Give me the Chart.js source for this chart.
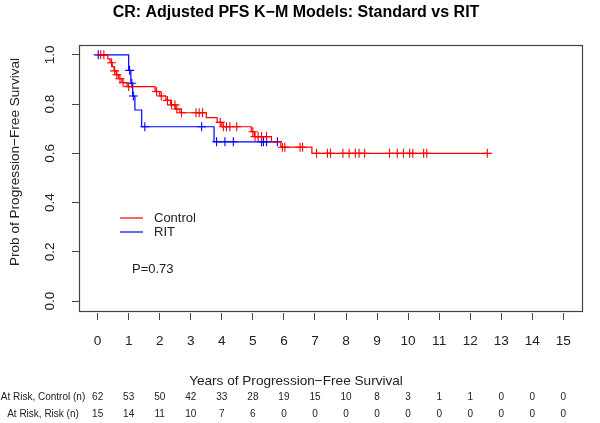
<!DOCTYPE html>
<html>
<head>
<meta charset="utf-8">
<script src="https://cdn.jsdelivr.net/npm/chart.js"></script>
<style>
  html, body { margin: 0; padding: 0; background: #fff; }
</style>
</head>
<body>
<canvas id="km" width="600" height="423"></canvas>
<script>
// tick values
const xTicks = [0, 1, 2, 3, 4, 5, 6, 7, 8, 9, 10, 11, 12, 13, 14, 15];
const yTicks = [0, 0.2, 0.4, 0.6, 0.8, 1.0];

// Control arm: event times (years) and survival after each step
const controlTimes = [0, 0.33, 0.40, 0.47, 0.53, 0.60, 0.68, 0.78, 0.95, 1.85, 2.0, 2.2, 2.35, 2.5, 2.65, 3.5, 3.85, 4.0, 4.95, 5.05, 5.6, 5.9, 6.9];
const controlSurv  = [1.0, 0.984, 0.968, 0.952, 0.935, 0.919, 0.903, 0.887, 0.871, 0.851, 0.833, 0.815, 0.797, 0.78, 0.765, 0.745, 0.726, 0.708, 0.688, 0.668, 0.647, 0.625, 0.600];
const controlEnd = 12.55;
const controlCensor = [0.1, 0.2, 0.45, 0.55, 0.62, 0.72, 0.82, 1.0, 1.9, 2.05, 2.25, 2.38, 2.49, 2.55, 2.7, 3.17, 3.27, 3.38, 3.95, 4.05, 4.15, 4.26, 4.48, 5.0, 5.07, 5.17, 5.28, 5.44, 5.95, 6.03, 6.52, 6.6, 7.05, 7.4, 7.5, 7.9, 8.1, 8.3, 8.42, 8.6, 9.4, 9.65, 9.85, 10.05, 10.15, 10.5, 10.6, 12.55];

// RIT arm
const ritTimes = [0, 1.0, 1.07, 1.13, 1.2, 1.42, 3.75];
const ritSurv  = [1.0, 0.937, 0.885, 0.833, 0.776, 0.708, 0.647];
const ritEnd = 5.85;
const ritCensor = [0.02, 1.03, 1.1, 1.15, 1.52, 3.35, 3.83, 4.1, 4.37, 5.28, 5.34, 5.44, 5.79];

// numbers at risk
const atRiskControl = [62, 53, 50, 42, 33, 28, 19, 15, 10, 8, 3, 1, 1, 0, 0, 0];
const atRiskRit     = [15, 14, 11, 10, 7, 6, 0, 0, 0, 0, 0, 0, 0, 0, 0, 0];

const FONT = '"Liberation Sans", Arial, Helvetica, sans-serif';
const RED = '#ff0000';
const BLUE = '#0000ff';

function stepPoints(times, surv, end) {
    const pts = times.map((t, i) => ({ x: t, y: surv[i] }));
    pts.push({ x: end, y: surv[surv.length - 1] });
    return pts;
}

function survAt(times, surv, t) {
    let s = surv[0];
    for (let i = 0; i < times.length; i++) {
        if (times[i] <= t) s = surv[i];
    }
    return s;
}

function censorPoints(times, surv, cens) {
    return cens.map(t => ({ x: t, y: survAt(times, surv, t) }));
}

const annotations = {
    id: 'kmText',
    afterDraw(chart) {
        const ctx = chart.ctx;
        const area = chart.chartArea;
        const xs = chart.scales.x;
        const ys = chart.scales.y;
        ctx.save();

        // frame
        ctx.strokeStyle = '#444';
        ctx.lineWidth = 1.2;
        ctx.strokeRect(area.left + 0.5, area.top + 0.5, area.right - area.left, area.bottom - area.top);

        ctx.fillStyle = '#000';
        ctx.textBaseline = 'middle';

        // title
        ctx.font = 'bold 16px ' + FONT;
        ctx.textAlign = 'center';
        ctx.fillText('CR: Adjusted PFS K\u2212M Models: Standard vs RIT', 296, 13);

        // y tick labels (rotated like R)
        ctx.font = '13.6px ' + FONT;
        ctx.fillStyle = '#222';
        yTicks.forEach(v => {
            ctx.save();
            ctx.translate(50, ys.getPixelForValue(v));
            ctx.rotate(-Math.PI / 2);
            ctx.fillText(v.toFixed(1), 0, 0);
            ctx.restore();
        });

        // axis titles
        ctx.save();
        ctx.translate(15, 162);
        ctx.rotate(-Math.PI / 2);
        ctx.fillText('Prob of Progression\u2212Free Survival', 0, 0);
        ctx.restore();
        ctx.fillText('Years of Progression\u2212Free Survival', 296, 381);

        // at risk table
        ctx.font = '10px ' + FONT;
        ctx.fillText('At Risk, Control (n)', 43, 397);
        ctx.fillText('At Risk, Risk (n)', 43, 414.5);
        xTicks.forEach((v, i) => {
            const px = xs.getPixelForValue(v);
            ctx.fillText(String(atRiskControl[i]), px, 397);
            ctx.fillText(String(atRiskRit[i]), px, 414.5);
        });

        // legend
        ctx.lineWidth = 1.2;
        ctx.strokeStyle = RED;
        ctx.beginPath(); ctx.moveTo(120, 218); ctx.lineTo(143, 218); ctx.stroke();
        ctx.strokeStyle = BLUE;
        ctx.beginPath(); ctx.moveTo(120, 232); ctx.lineTo(143, 232); ctx.stroke();
        ctx.font = '13px ' + FONT;
        ctx.textAlign = 'left';
        ctx.fillText('Control', 154, 218);
        ctx.fillText('RIT', 154, 232);
        ctx.fillText('P=0.73', 132, 269);

        ctx.restore();
    }
};

new Chart(document.getElementById('km'), {
    type: 'scatter',
    data: {
        datasets: [
            {
                label: 'Control',
                data: stepPoints(controlTimes, controlSurv, controlEnd),
                showLine: true,
                stepped: true,
                borderColor: RED,
                borderWidth: 1.2,
                pointRadius: 0
            },
            {
                label: 'RIT',
                data: stepPoints(ritTimes, ritSurv, ritEnd),
                showLine: true,
                stepped: true,
                borderColor: BLUE,
                borderWidth: 1.2,
                pointRadius: 0
            },
            {
                label: 'Control censored',
                data: censorPoints(controlTimes, controlSurv, controlCensor),
                pointStyle: 'cross',
                pointRadius: 4.5,
                borderColor: RED,
                borderWidth: 1.1
            },
            {
                label: 'RIT censored',
                data: censorPoints(ritTimes, ritSurv, ritCensor),
                pointStyle: 'cross',
                pointRadius: 4.5,
                borderColor: BLUE,
                borderWidth: 1.1
            }
        ]
    },
    options: {
        responsive: false,
        animation: false,
        devicePixelRatio: 1,
        layout: { padding: { top: 45, right: 18, left: 0, bottom: 0 } },
        plugins: {
            legend: { display: false },
            tooltip: { enabled: false }
        },
        scales: {
            x: {
                type: 'linear',
                min: -0.6,
                max: 15.6,
                afterBuildTicks: s => { s.ticks = xTicks.map(v => ({ value: v })); },
                afterFit: s => { s.height = 112; },
                grid: { drawOnChartArea: false, tickLength: 9, color: '#444', lineWidth: 1 },
                border: { display: true, width: 4, color: 'rgba(0,0,0,0)' },
                ticks: {
                    autoSkip: false,
                    maxRotation: 0,
                    padding: 13,
                    color: '#222',
                    font: { family: FONT, size: 13.6 }
                }
            },
            y: {
                type: 'linear',
                min: -0.04,
                max: 1.04,
                afterBuildTicks: s => { s.ticks = yTicks.map(v => ({ value: v })); },
                afterFit: s => { s.width = 79; },
                grid: { drawOnChartArea: false, tickLength: 7, color: '#444', lineWidth: 1 },
                border: { display: false },
                ticks: { display: false }
            }
        }
    },
    plugins: [annotations]
});
</script>
</body>
</html>
